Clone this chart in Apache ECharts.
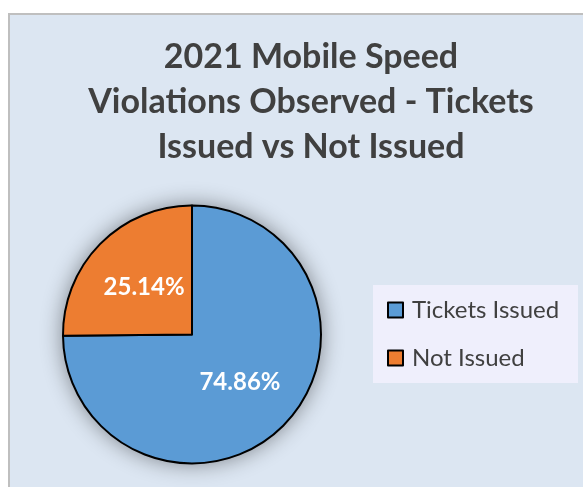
<!DOCTYPE html>
<html>
<head>
<meta charset="utf-8">
<script src="https://cdn.jsdelivr.net/npm/echarts@6/dist/echarts.min.js"></script>
<style>
  html, body { margin: 0; padding: 0; background: #ffffff; }
  #chart { width: 583px; height: 487px; }
</style>
</head>
<body>
<div id="chart"></div>
<script>
// Mobile speed violations observed in 2021, split by outcome (percent)
const categories = ['Tickets Issued', 'Not Issued'];
const shares = [74.86, 25.14];
const sliceColors = ['#5b9bd5', '#ed7d31'];

const chart = echarts.init(document.getElementById('chart'), null, { renderer: 'canvas' });

const center = [192, 334.5];
const radius = 129;

const option = {
  backgroundColor: '#ffffff',
  animation: false,
  graphic: [
    {
      // chart area panel
      type: 'rect',
      z: -10,
      shape: { x: 9, y: 14, width: 620, height: 520 },
      style: { fill: '#dce6f2', stroke: '#bfbfbf', lineWidth: 2 }
    },
    {
      // legend panel
      type: 'rect',
      z: -5,
      shape: { x: 373, y: 285, width: 205, height: 98 },
      style: { fill: '#efeffc' }
    }
  ],
  title: {
    text: '2021 Mobile Speed\nViolations Observed - Tickets\nIssued vs Not Issued',
    left: 311,
    textAlign: 'center',
    top: 35,
    padding: 0,
    textStyle: {
      fontFamily: 'Lato',
      fontWeight: 'bold',
      fontSize: 34,
      lineHeight: 45,
      color: '#404040'
    }
  },
  legend: {
    orient: 'vertical',
    left: 387,
    top: 298,
    padding: 0,
    itemGap: 24,
    itemWidth: 15,
    itemHeight: 15,
    icon: 'rect',
    data: categories,
    itemStyle: { borderColor: '#000000', borderWidth: 2 },
    textStyle: {
      fontFamily: 'Lato',
      fontSize: 24,
      color: '#404040',
      padding: [0, 0, 0, 4]
    }
  },
  series: [
    {
      // soft drop shadow behind the pie
      type: 'pie',
      silent: true,
      z: 1,
      center: center,
      radius: radius,
      label: { show: false },
      labelLine: { show: false },
      data: [{ value: 1, name: '__shadow' }],
      itemStyle: {
        color: '#5b9bd5',
        shadowBlur: 22,
        shadowColor: 'rgba(0, 0, 0, 0.45)'
      }
    },
    {
      type: 'pie',
      z: 2,
      center: center,
      radius: radius,
      startAngle: 90,
      clockwise: true,
      data: categories.map((name, i) => ({
        name: name,
        value: shares[i],
        itemStyle: { color: sliceColors[i] }
      })),
      itemStyle: { borderColor: '#000000', borderWidth: 2 },
      label: {
        show: true,
        position: 'inside',
        formatter: p => p.value.toFixed(2) + '%',
        fontFamily: 'Lato',
        fontWeight: 'bold',
        fontSize: 24,
        color: '#ffffff'
      },
      labelLine: { show: false },
      emphasis: { disabled: true }
    }
  ]
};

chart.setOption(option);
</script>
</body>
</html>
